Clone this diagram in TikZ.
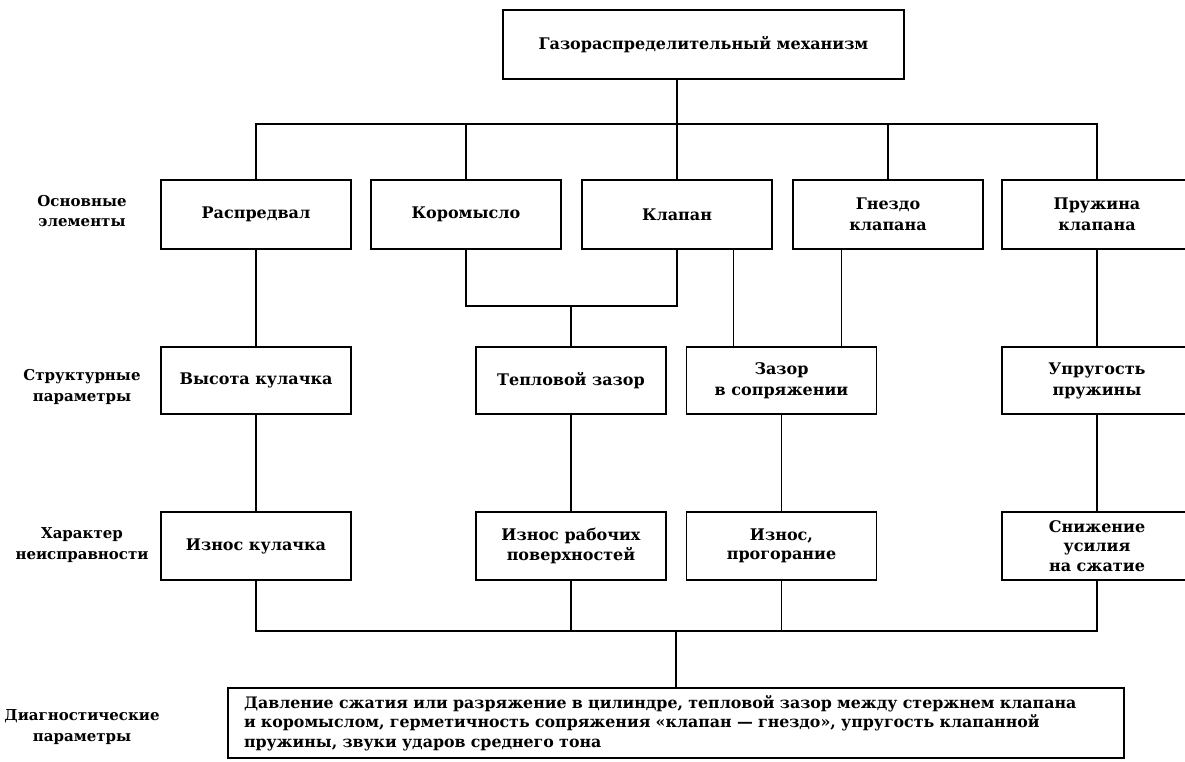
\documentclass[tikz,border=0pt]{standalone}
\usepackage{fontspec}
\setmainfont{DejaVu Serif}
\begin{document}
\begin{tikzpicture}
[x=1pt,y=-1pt,line width=1.3pt,
 every node/.style={font=\bfseries\fontsize{16}{21}\selectfont, align=center},
 blok/.style={draw=black, fill=white, minimum width=190pt, minimum height=68pt, inner sep=2pt},
 ryad/.style={inner sep=0pt, font=\bfseries\fontsize{15}{20.5}\selectfont}]
\useasboundingbox (0,0) rectangle (1185,762);
\def \ya {214.5} % row heights
\def \yb {380.5}
\def \yc {546}
\node[blok, minimum width=401pt, minimum height=69pt] (gm) at (703.5,44.5) {Газораспределительный механизм};
% row labels on the left
\node[ryad] (l1) at (82,211) {Основные\\элементы};
\node[ryad] (l2) at (82,387) {Структурные\\параметры};
\node[ryad] (l3) at (82,545) {Характер\\неисправности};
\node[ryad] (l4) at (82,727) {Диагностические\\параметры};
\foreach \x/\nm/\t in {256/raspr/{Распредвал}, 466/korom/{Коромысло}, 677/klapan/{Клапан}, 888/gnezdo/{Гнездо\\клапана}, 1097/pruzh/{Пружина\\клапана}}
{
  \node[blok, minimum height=69pt] (\nm) at (\x,\ya) {\t};
}
\foreach \x/\nm/\t in {256/vysota/{Высота кулачка}, 571/teplo/{Тепловой зазор}, 781.5/zazor/{Зазор\\в сопряжении}, 1097/uprug/{Упругость\\пружины}}
{
  \node[blok, minimum height=67pt] (\nm) at (\x,\yb) {\t};
}
\foreach \x/\nm/\t in {256/izn1/{Износ кулачка}, 571/izn2/{Износ рабочих\\поверхностей}, 781.5/izn3/{Износ,\\прогорание}, 1097/snizh/{Снижение\\усилия\\на сжатие}}
{
  \node[blok, font=\bfseries\fontsize{16}{19.5}\selectfont] (\nm) at (\x,\yc) {\t};
}
\node[blok, minimum width=896pt, minimum height=70pt, text width=864pt, align=left, inner sep=0pt,
  font=\bfseries\fontsize{15.8}{19.5}\selectfont] (diag) at (676,723)
  {Давление сжатия или разряжение в цилиндре, тепловой зазор между стержнем клапана\\
   и коромыслом, герметичность сопряжения «клапан — гнездо», упругость клапанной\\
   пружины, звуки ударов среднего тона};
\coordinate (bus1) at (0,124);
\coordinate (jy) at (0,306);
\coordinate (bus2) at (0,631);
\draw (gm.south -| klapan.north) -- (klapan.north);
\draw (raspr.north) -- (raspr.north |- bus1) -- (pruzh.north |- bus1) -- (pruzh.north);
\foreach \nm in {korom,gnezdo} \draw (\nm.north) -- (\nm.north |- bus1);
\draw (raspr.south) -- (vysota.north);
\draw (korom.south) |- (jy -| klapan.south) -- (klapan.south);
\draw (teplo.north) -- (teplo.north |- jy);
\draw ([xshift=-39pt]klapan.south east) -- ([xshift=-39pt]klapan.south east |- zazor.north);
\draw ([xshift=49pt]gnezdo.south west) -- ([xshift=49pt]gnezdo.south west |- zazor.north);
\draw (pruzh.south) -- (uprug.north);
\foreach \a/\b in {vysota/izn1, teplo/izn2, zazor/izn3, uprug/snizh} \draw (\a.south) -- (\b.north);
\draw (izn1.south) |- (bus2 -| snizh.south) -- (snizh.south);
\foreach \nm in {izn2,izn3} \draw (\nm.south) -- (\nm.south |- bus2);
\draw (diag.north) -- (diag.north |- bus2);
\end{tikzpicture}
\end{document}
